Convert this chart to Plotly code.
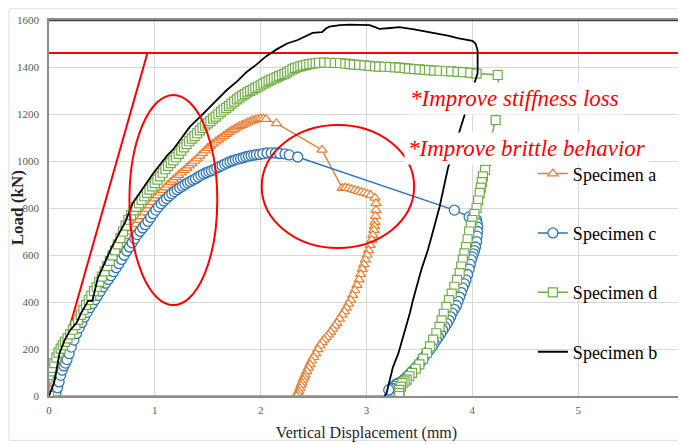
import plotly.graph_objects as go

# ---------------- data ----------------
# Specimen a (orange triangles)
a_x = [0.000, 0.025, 0.050, 0.075, 0.100, 0.125, 0.150, 0.175, 0.200, 0.225, 0.250, 0.275,
       0.300, 0.325, 0.350, 0.375, 0.400, 0.425, 0.450, 0.475, 0.500, 0.525, 0.550, 0.575,
       0.600, 0.625, 0.650, 0.675, 0.700, 0.725, 0.750, 0.775, 0.800, 0.825, 0.850, 0.875,
       0.900, 0.925, 0.950, 0.975, 1.000, 1.025, 1.050, 1.075, 1.100, 1.125, 1.150, 1.175,
       1.200, 1.225, 1.250, 1.275, 1.300, 1.325, 1.350, 1.375, 1.400, 1.425, 1.450, 1.475,
       1.500, 1.525, 1.550, 1.575, 1.600, 1.625, 1.650, 1.675, 1.700, 1.725, 1.750, 1.775,
       1.800, 1.825, 1.850, 1.875, 1.900, 1.925, 1.950, 1.975, 2.000, 2.025, 2.050, 2.150,
       2.580, 2.770, 2.800, 2.830, 2.860, 2.890, 2.920, 2.950, 2.980, 3.010, 3.040, 3.080,
       3.090, 3.090, 3.085, 3.080, 3.075, 3.070, 3.060, 3.050, 3.035, 3.020, 3.005, 2.990,
       2.975, 2.960, 2.945, 2.930, 2.910, 2.890, 2.870, 2.850, 2.830, 2.810, 2.790, 2.770,
       2.745, 2.720, 2.700, 2.680, 2.660, 2.640, 2.620, 2.600, 2.580, 2.560, 2.540, 2.520,
       2.500, 2.480, 2.465, 2.450, 2.435, 2.420, 2.410, 2.400, 2.390, 2.380, 2.370, 2.360,
       2.350, 2.340]
a_y = [0, 28, 55, 83, 110, 138, 165, 190, 215, 240, 265, 290,
       315, 338, 360, 383, 405, 427, 448, 469, 490, 510, 530, 550,
       570, 589, 608, 627, 645, 663, 680, 698, 715, 732, 748, 764,
       780, 795, 810, 825, 840, 853, 865, 876, 887, 899, 910, 920,
       930, 940, 950, 960, 970, 980, 990, 1000, 1010, 1022, 1033, 1044,
       1055, 1064, 1073, 1082, 1090, 1098, 1106, 1114, 1122, 1129, 1135, 1142,
       1148, 1153, 1158, 1163, 1168, 1172, 1175, 1178, 1180, 1180, 1178, 1160,
       1047, 885, 887, 884, 880, 876, 872, 868, 864, 860, 855, 843,
       820, 791, 765, 740, 723, 706, 685, 664, 642, 620, 600, 580,
       560, 540, 518, 495, 472, 450, 429, 408, 392, 375, 360, 345,
       328, 310, 298, 285, 272, 260, 250, 240, 228, 215, 198, 180,
       165, 150, 135, 120, 105, 90, 79, 68, 56, 45, 32, 20,
       10, 0]

# Specimen c (blue circles)
c_x = [0.050, 0.065, 0.080, 0.095, 0.110, 0.125, 0.140, 0.155, 0.170, 0.190, 0.210, 0.235,
       0.260, 0.285, 0.310, 0.335, 0.360, 0.385, 0.410, 0.435, 0.460, 0.485, 0.510, 0.535,
       0.560, 0.585, 0.610, 0.635, 0.660, 0.685, 0.710, 0.735, 0.760, 0.785, 0.810, 0.835,
       0.860, 0.885, 0.910, 0.935, 0.960, 0.985, 1.010, 1.035, 1.060, 1.085, 1.110, 1.135,
       1.160, 1.185, 1.210, 1.235, 1.260, 1.285, 1.310, 1.335, 1.360, 1.385, 1.410, 1.435,
       1.460, 1.485, 1.510, 1.535, 1.560, 1.585, 1.610, 1.635, 1.660, 1.685, 1.710, 1.735,
       1.760, 1.785, 1.810, 1.835, 1.860, 1.885, 1.910, 1.935, 1.960, 1.990, 2.020, 2.060,
       2.100, 2.140, 2.180, 2.230, 2.270, 2.350,
       3.830, 3.970, 4.000, 4.020, 4.030, 4.040, 4.045, 4.050, 4.050, 4.045, 4.040, 4.030,
       4.020, 4.010, 4.000, 3.990, 3.980, 3.970, 3.955, 3.940, 3.925, 3.910, 3.895, 3.880,
       3.865, 3.850, 3.830, 3.810, 3.795, 3.780, 3.760, 3.740, 3.720, 3.700, 3.680, 3.660,
       3.640, 3.620, 3.595, 3.570, 3.545, 3.520, 3.495, 3.470, 3.445, 3.420, 3.400, 3.380,
       3.355, 3.330, 3.305, 3.280, 3.260, 3.240, 3.225, 3.210]
c_y = [0, 15, 35, 60, 88, 110, 128, 140, 155, 180, 208, 238,
       266, 290, 313, 336, 356, 376, 393, 410, 428, 446, 464, 480,
       496, 512, 529, 546, 563, 581, 599, 617, 634, 652, 670, 687,
       701, 715, 729, 744, 760, 776, 791, 805, 818, 830, 840, 851,
       861, 870, 878, 886, 893, 900, 907, 913, 919, 925, 932, 939,
       945, 950, 955, 959, 964, 970, 976, 981, 987, 992, 997, 1001,
       1005, 1008, 1011, 1014, 1018, 1021, 1023, 1025, 1027, 1028, 1031, 1034,
       1035, 1034, 1032, 1030, 1026, 1017,
       791, 762, 758, 755, 752, 749, 735, 719, 700, 680, 657, 634,
       619, 605, 592, 579, 560, 540, 517, 494, 477, 460, 440, 421,
       403, 385, 369, 353, 337, 322, 308, 294, 280, 265, 251, 238,
       224, 210, 196, 183, 166, 150, 136, 123, 111, 100, 90, 81,
       71, 62, 56, 50, 42, 34, 30, 26]

# Specimen d (green squares)
d_x = [0.000, 0.000, 0.015, 0.030, 0.050, 0.070, 0.090, 0.110, 0.130, 0.150, 0.175, 0.200,
       0.225, 0.250, 0.275, 0.300, 0.325, 0.350, 0.375, 0.400, 0.425, 0.450, 0.475, 0.500,
       0.525, 0.550, 0.575, 0.600, 0.625, 0.650, 0.675, 0.700, 0.725, 0.750, 0.775, 0.800,
       0.825, 0.850, 0.875, 0.900, 0.925, 0.950, 0.975, 1.000, 1.025, 1.050, 1.075, 1.100,
       1.125, 1.150, 1.175, 1.200, 1.225, 1.250, 1.275, 1.300, 1.325, 1.350, 1.375, 1.400,
       1.425, 1.450, 1.475, 1.500, 1.525, 1.550, 1.575, 1.600, 1.625, 1.650, 1.675, 1.700,
       1.725, 1.750, 1.775, 1.800, 1.825, 1.850, 1.875, 1.900, 1.925, 1.950, 1.975, 2.000,
       2.025, 2.050, 2.075, 2.100, 2.125, 2.150, 2.175, 2.200, 2.225, 2.250, 2.275, 2.300,
       2.325, 2.350, 2.375, 2.400, 2.430, 2.460, 2.490, 2.520, 2.550, 2.600, 2.650, 2.700,
       2.750, 2.800, 2.840, 2.880, 2.930, 2.980, 3.030, 3.080, 3.120, 3.170, 3.220, 3.270,
       3.310, 3.360, 3.400, 3.450, 3.500, 3.550, 3.590, 3.640, 3.690, 3.750, 3.800, 3.860,
       3.910, 3.980, 4.040, 4.240,
       4.260, 4.220, 4.160, 4.130, 4.120, 4.100, 4.090, 4.080, 4.070, 4.055, 4.040, 4.020,
       4.000, 3.985, 3.970, 3.955, 3.940, 3.925, 3.910, 3.895, 3.880, 3.855, 3.830, 3.805,
       3.780, 3.755, 3.730, 3.710, 3.690, 3.660, 3.630, 3.600, 3.570, 3.535, 3.500, 3.465,
       3.430, 3.405, 3.380, 3.360, 3.340, 3.325, 3.310, 3.310, 3.310, 0.000]
d_y = [0, 90, 105, 120, 140, 163, 185, 202, 216, 230, 245, 262,
       282, 302, 324, 345, 367, 388, 408, 427, 446, 465, 486, 508,
       530, 553, 575, 598, 620, 645, 672, 700, 725, 750, 770, 790,
       805, 820, 835, 850, 864, 878, 892, 906, 921, 935, 950, 965,
       979, 991, 1003, 1016, 1030, 1044, 1058, 1072, 1084, 1095, 1106, 1118,
       1130, 1141, 1151, 1160, 1170, 1180, 1189, 1199, 1209, 1218, 1226, 1235,
       1244, 1253, 1262, 1270, 1278, 1285, 1292, 1298, 1304, 1310, 1316, 1322,
       1329, 1335, 1341, 1346, 1351, 1356, 1361, 1366, 1371, 1377, 1384, 1390,
       1395, 1399, 1403, 1406, 1409, 1412, 1414, 1416, 1418, 1419, 1418, 1417,
       1417, 1414, 1412, 1410, 1409, 1407, 1405, 1403, 1402, 1401, 1400, 1398,
       1397, 1395, 1393, 1391, 1390, 1388, 1387, 1385, 1384, 1382, 1381, 1379,
       1378, 1375, 1372, 1366,
       1260, 1174, 1060, 1000, 962, 935, 910, 887, 864, 832, 800, 775,
       749, 725, 700, 667, 634, 607, 580, 551, 523, 494, 465, 436,
       408, 379, 350, 322, 294, 267, 240, 211, 183, 159, 135, 116,
       98, 84, 70, 62, 55, 40, 26, 12, 0, 0]

# Specimen b (black line)
b_x = [0.00, 0.02, 0.05, 0.10, 0.15, 0.20, 0.26, 0.30, 0.34, 0.37, 0.41, 0.46, 0.52, 0.59,
       0.66, 0.72, 0.79, 0.85, 0.92, 0.98, 1.05, 1.12, 1.17, 1.25, 1.33, 1.42, 1.52, 1.60,
       1.68, 1.78, 1.87, 1.96, 2.05, 2.15, 2.25, 2.35, 2.42, 2.49, 2.58, 2.62, 2.65, 2.75,
       2.84, 2.95, 3.03, 3.08, 3.12, 3.20, 3.31, 3.45, 3.59, 3.70, 3.78, 3.86, 3.91, 3.97,
       4.00, 4.03, 4.05, 4.05, 3.98, 3.91, 3.84, 3.77, 3.73, 3.69, 3.64, 3.58, 3.52, 3.47,
       3.44, 3.41, 3.37, 3.34, 3.30, 3.25, 3.22, 3.19, 3.17]
b_y = [0, 25, 60, 183, 240, 280, 311, 350, 380, 405, 405, 500, 560, 630,
       690, 740, 820, 860, 905, 945, 985, 1025, 1047, 1095, 1145, 1185, 1230, 1265,
       1302, 1340, 1380, 1410, 1445, 1475, 1500, 1515, 1530, 1545, 1548, 1565, 1572, 1578,
       1580, 1580, 1578, 1570, 1562, 1565, 1570, 1560, 1549, 1540, 1532, 1523, 1519, 1514,
       1511, 1500, 1470, 1374, 1270, 1166, 1070, 970, 890, 804, 720, 621, 540, 464,
       410, 353, 290, 238, 180, 123, 70, 13, 0]

capacity_x = [0, 6]
capacity_y = [1460, 1460]
stiffness_x = [0.01, 0.93]
stiffness_y = [0, 1460]

ellipse1 = dict(x0=0.76, x1=1.59, y0=387, y1=1281)
ellipse2 = dict(x0=2.01, x1=3.45, y0=630, y1=1153)

note1 = dict(text="*Improve stiffness loss", x=4.40, y=1268)
note2 = dict(text="*Improve brittle behavior", x=4.52, y=1055)

x_ticks = [0, 1, 2, 3, 4, 5, 6]
y_ticks = [0, 200, 400, 600, 800, 1000, 1200, 1400, 1600]

# ---------------- figure ----------------
SERIF = "Liberation Serif"
ORANGE = "#ED7D31"
BLUE = "#2E75B6"
GREEN = "#70AD47"
RED = "#FF0000"

fig = go.Figure()

fig.add_trace(go.Scatter(x=stiffness_x, y=stiffness_y, mode="lines",
                         line=dict(color=RED, width=2), showlegend=False, hoverinfo="skip"))
fig.add_trace(go.Scatter(x=capacity_x, y=capacity_y, mode="lines",
                         line=dict(color=RED, width=2), showlegend=False, hoverinfo="skip"))

fig.add_trace(go.Scatter(x=a_x, y=a_y, mode="lines+markers", name="Specimen a", legendgroup="a",
                         line=dict(color=ORANGE, width=1.5),
                         marker=dict(symbol="triangle-up", size=9, color="white",
                                     line=dict(color=ORANGE, width=1.2))))
fig.add_trace(go.Scatter(x=c_x, y=c_y, mode="lines+markers", name="Specimen c", legendgroup="c",
                         line=dict(color=BLUE, width=1.5),
                         marker=dict(symbol="circle", size=10, color="white",
                                     line=dict(color=BLUE, width=1.3))))
fig.add_trace(go.Scatter(x=d_x, y=d_y, mode="lines+markers", name="Specimen d", legendgroup="d",
                         line=dict(color=GREEN, width=1.5),
                         marker=dict(symbol="square", size=9, color="white",
                                     line=dict(color=GREEN, width=1.2))))
fig.add_trace(go.Scatter(x=b_x, y=b_y, mode="lines", name="Specimen b", legendgroup="b",
                         line=dict(color="black", width=1.8)))

for e in (ellipse1, ellipse2):
    fig.add_shape(type="circle", xref="x", yref="y", line=dict(color=RED, width=2),
                  **e)

# top frame line (darker) and faint outer chart border
fig.add_shape(type="line", xref="x", yref="y", x0=0, x1=6, y0=1600, y1=1600,
              line=dict(color="#404040", width=2.5))
fig.add_shape(type="rect", xref="paper", yref="paper",
              x0=-0.063, x1=1.0016, y0=-0.118, y1=1.03,
              line=dict(color="#e0e0e0", width=1))

for n in (note1, note2):
    fig.add_annotation(x=n["x"], y=n["y"], xref="x", yref="y", text=n["text"], showarrow=False,
                       font=dict(family=SERIF, size=23, color=RED, style="italic"),
                       bgcolor="white", borderpad=3)

# y-axis title placed as a rotated annotation (it sits over the tick-label column)
fig.add_annotation(x=-0.050, y=0.5, xref="paper", yref="paper", text="<b>Load (kN)</b>",
                   textangle=-90, showarrow=False, xanchor="center", yanchor="middle",
                   font=dict(family=SERIF, size=17, color="#262626"))

# the page adds an 8px body margin, so the figure is sized to fit the window from there
fig.update_layout(
    width=678, height=437,
    margin=dict(l=41, r=2, t=12, b=49, autoexpand=False),
    paper_bgcolor="white", plot_bgcolor="white",
    font=dict(family=SERIF, color="#595959"),
    legend=dict(x=0.762, y=0.64, xanchor="left", yanchor="top",
                bgcolor="rgba(0,0,0,0)", tracegroupgap=33,
                font=dict(family=SERIF, size=18, color="black"),
                itemwidth=30),
    showlegend=True,
)
fig.update_xaxes(range=[0, 6], tickvals=x_ticks, showgrid=True, gridcolor="#d9d9d9",
                 gridwidth=1, zeroline=False, showline=True, linecolor="#8c8c8c",
                 linewidth=1.5, mirror=True, ticks="", automargin=False,
                 ticklabelstandoff=3,
                 tickfont=dict(family=SERIF, size=11, color="#595959"),
                 title=dict(text="Vertical Displacement (mm)", standoff=12,
                            font=dict(family=SERIF, size=16, color="#262626")))
fig.update_yaxes(range=[0, 1600], tickvals=y_ticks, showgrid=True, gridcolor="#d9d9d9",
                 gridwidth=1, zeroline=False, showline=True, linecolor="#8c8c8c",
                 linewidth=1.5, mirror=True, ticks="", automargin=False,
                 ticklabelstandoff=6,
                 tickfont=dict(family=SERIF, size=11, color="#595959"))

fig.write_html("out.html")
